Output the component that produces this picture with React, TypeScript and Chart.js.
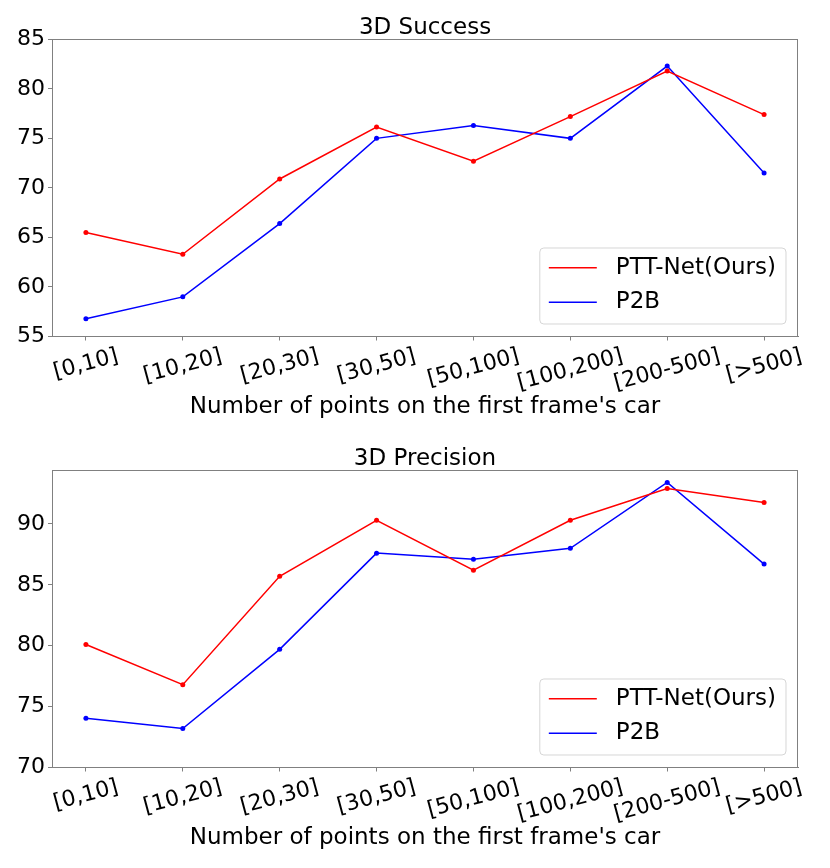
import React, { useEffect, useRef } from "react";
import { Chart, registerables } from "chart.js";

Chart.register(...registerables);

const FONT = "DejaVu Sans";
const GRAY = "#808080";

const categories = ["[0,10]", "[10,20]", "[20,30]", "[30,50]", "[50,100]", "[100,200]", "[200-500]", "[>500]"];
const seriesNames = ["PTT-Net(Ours)", "P2B"];
const successOurs = [65.5, 63.3, 70.9, 76.15, 72.7, 77.2, 81.8, 77.4];
const successP2B = [56.8, 59.0, 66.4, 75.0, 76.3, 75.0, 82.3, 71.5];
const precisionOurs = [80.1, 76.8, 85.7, 90.3, 86.2, 90.3, 92.9, 91.75];
const precisionP2B = [74.05, 73.2, 79.7, 87.6, 87.1, 88.0, 93.4, 86.7];
const successTicks = [55, 60, 65, 70, 75, 80, 85];
const precisionTicks = [70, 75, 80, 85, 90];
const xLabel = "Number of points on the first frame's car";

// title over the plot area, frame on all four sides, rotated category labels and an in-plot legend
const decorPlugin = {
  id: "decor",
  afterDatasetsDraw(chart: any, _args: any, opts: any) {
    const { ctx, chartArea: ca, scales } = chart;
    ctx.save();
    ctx.strokeStyle = GRAY;
    ctx.lineWidth = 1;
    const l = Math.round(ca.left) + 0.5;
    const t = Math.round(ca.top) + 0.5;
    const r = Math.round(ca.right) - 0.5;
    const b = Math.round(ca.bottom) - 0.5;
    ctx.strokeRect(l, t, r - l, b - t);

    ctx.font = `23px "${FONT}"`;
    ctx.fillStyle = "#000";
    ctx.textAlign = "center";
    ctx.textBaseline = "alphabetic";
    ctx.fillText(opts.title, (ca.left + ca.right) / 2, ca.top - 5.3);

    const ang = (15 * Math.PI) / 180;
    ctx.font = `22px "${FONT}"`;
    ctx.textBaseline = "middle";
    categories.forEach((c, i) => {
      const x = scales.x.getPixelForValue(i);
      const w = ctx.measureText(c).width;
      const h = 22 * 1.17;
      const bh = w * Math.sin(ang) + h * Math.cos(ang);
      const y = ca.bottom + 7 + bh / 2;
      ctx.save();
      ctx.translate(x, y);
      ctx.rotate(-ang);
      ctx.fillText(c, 0, 0);
      ctx.restore();
    });

    ctx.font = `23px "${FONT}"`;
    const sets = chart.data.datasets;
    const tw = Math.max(...sets.map((d: any) => ctx.measureText(d.label).width));
    const bw = 76 + tw + 10;
    const bhh = 76;
    const bx = ca.right - 12 - bw;
    const by = ca.bottom - 12.5 - bhh;
    ctx.beginPath();
    ctx.roundRect(bx, by, bw, bhh, 4);
    ctx.fillStyle = "rgba(255,255,255,0.8)";
    ctx.fill();
    ctx.strokeStyle = "rgba(204,204,204,0.8)";
    ctx.lineWidth = 1;
    ctx.stroke();
    sets.forEach((d: any, k: number) => {
      const ly = by + 19.7 + k * 34.6;
      ctx.beginPath();
      ctx.moveTo(bx + 9, ly);
      ctx.lineTo(bx + 57, ly);
      ctx.strokeStyle = d.borderColor;
      ctx.lineWidth = 1.5;
      ctx.stroke();
      ctx.fillStyle = "#000";
      ctx.textAlign = "left";
      ctx.textBaseline = "middle";
      ctx.fillText(d.label, bx + 76, ly);
    });
    ctx.restore();
  },
};

type PanelProps = {
  title: string;
  ours: number[];
  p2b: number[];
  yTicks: number[];
  yMin: number;
  yMax: number;
  height: number;
};

const Panel: React.FC<PanelProps> = ({ title, ours, p2b, yTicks, yMin, yMax, height }) => {
  const canvasRef = useRef<HTMLCanvasElement | null>(null);
  const chartRef = useRef<Chart | null>(null);

  useEffect(() => {
    const ctx = canvasRef.current?.getContext("2d");
    if (!ctx) return;
    if (chartRef.current) chartRef.current.destroy();

    const line = (label: string, values: number[], color: string) => ({
      label,
      data: values.map((v, i) => ({ x: i, y: v })),
      borderColor: color,
      backgroundColor: color,
      borderWidth: 1.5,
      pointRadius: 2.5,
      pointBorderWidth: 0,
      pointBackgroundColor: color,
      tension: 0,
    });

    chartRef.current = new Chart(ctx, {
      type: "line",
      data: {
        datasets: [line(seriesNames[0], ours, "#ff0000"), line(seriesNames[1], p2b, "#0000ff")],
      },
      options: {
        animation: false,
        responsive: false,
        maintainAspectRatio: false,
        layout: { padding: { left: 0, right: 32, top: 39.3, bottom: height - 431 } },
        plugins: {
          legend: { display: false },
          tooltip: { enabled: false },
          title: { display: false },
          decor: { title },
        },
        scales: {
          x: {
            type: "linear",
            min: -0.35,
            max: 7.35,
            afterBuildTicks: (s: any) => {
              s.ticks = categories.map((_, i) => ({ value: i }));
            },
            afterFit: (s: any) => {
              s.height = 94.5;
            },
            ticks: { display: false },
            grid: { drawOnChartArea: false, drawTicks: true, tickLength: 4, color: GRAY },
            border: { color: GRAY },
            title: {
              display: true,
              text: xLabel,
              color: "#000",
              font: { size: 23, family: FONT },
              padding: { top: 0, bottom: 10 },
            },
          },
          y: {
            min: yMin,
            max: yMax,
            afterBuildTicks: (s: any) => {
              s.ticks = yTicks.map((v) => ({ value: v }));
            },
            afterFit: (s: any) => {
              s.width = 52;
            },
            ticks: { color: "#000", font: { size: 22, family: FONT }, padding: 3 },
            grid: { drawOnChartArea: false, tickLength: 4, color: GRAY },
            border: { color: GRAY },
          },
        },
      },
      plugins: [decorPlugin],
    } as any);

    return () => {
      if (chartRef.current) {
        chartRef.current.destroy();
        chartRef.current = null;
      }
    };
  }, []);

  return <canvas ref={canvasRef} width={830} height={height} style={{ display: "block" }} />;
};

const App: React.FC = () => {
  Chart.defaults.font.family = FONT;
  return (
    <div style={{ position: "absolute", left: 0, top: 0, width: 830, height: 868, background: "#fff" }}>
      <Panel title="3D Success" ours={successOurs} p2b={successP2B} yTicks={successTicks} yMin={55} yMax={85} height={431} />
      <Panel title="3D Precision" ours={precisionOurs} p2b={precisionP2B} yTicks={precisionTicks} yMin={70} yMax={94.4} height={437} />
    </div>
  );
};

export default App;
